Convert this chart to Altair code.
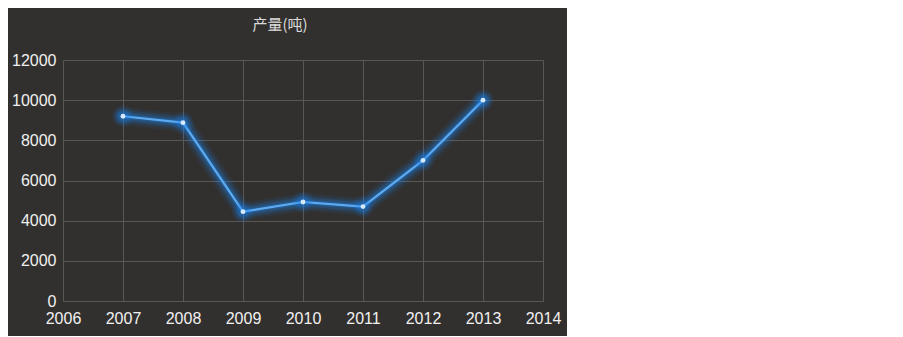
import altair as alt
import pandas as pd

years = [2007, 2008, 2009, 2010, 2011, 2012, 2013]
output = [9200, 8880, 4450, 4930, 4700, 7000, 10000]
x_ticks = [2006, 2007, 2008, 2009, 2010, 2011, 2012, 2013, 2014]
y_ticks = [0, 2000, 4000, 6000, 8000, 10000, 12000]
title_text = "产量(吨)"

df = pd.DataFrame({"year": years, "value": output})

x = alt.X("year:Q", scale=alt.Scale(domain=[2006, 2014], nice=False),
          axis=alt.Axis(values=x_ticks, format="d", title=None, grid=True,
                        gridColor="#5a5856", gridWidth=1, domain=False, ticks=False,
                        labelColor="#f0f0f0", labelFontSize=16, labelFont="Liberation Sans",
                        labelPadding=9, labelFlush=False))
y = alt.Y("value:Q", scale=alt.Scale(domain=[0, 12000], nice=False),
          axis=alt.Axis(values=y_ticks, format="d", title=None, grid=True,
                        gridColor="#5a5856", gridWidth=1, domain=False, ticks=False,
                        labelColor="#f0f0f0", labelFontSize=16, labelFont="Liberation Sans",
                        labelPadding=7))

base = alt.Chart(df).encode(x=x, y=y)

layers = []
for w, op in [(18, 0.08), (13, 0.12), (9, 0.18), (5, 0.28)]:
    layers.append(base.mark_line(color="#1a84ee", strokeWidth=w, opacity=op,
                                 strokeJoin="round", strokeCap="round"))
layers.append(base.mark_line(color="#5eaaf0", strokeWidth=2.2, strokeJoin="round"))
for s, op in [(480, 0.08), (300, 0.12), (160, 0.2)]:
    layers.append(base.mark_circle(color="#1a84ee", size=s, opacity=op))
layers.append(base.mark_circle(color="#d4e9fb", size=24, opacity=1))

chart = alt.layer(*layers).properties(
    width=480, height=241,
    title=alt.TitleParams(title_text, color="#dcdcdc", fontSize=15,
                          font="Noto Sans CJK SC", fontWeight="normal",
                          anchor="middle", dx=-23, offset=19),
    autosize=alt.AutoSizeParams(type="none"),
    padding={"left": 55, "top": 52, "right": 24, "bottom": 35},
    background="#32302e",
).configure_view(stroke=None)

chart.save("out.html", embed_options={"renderer": "svg", "actions": False})
